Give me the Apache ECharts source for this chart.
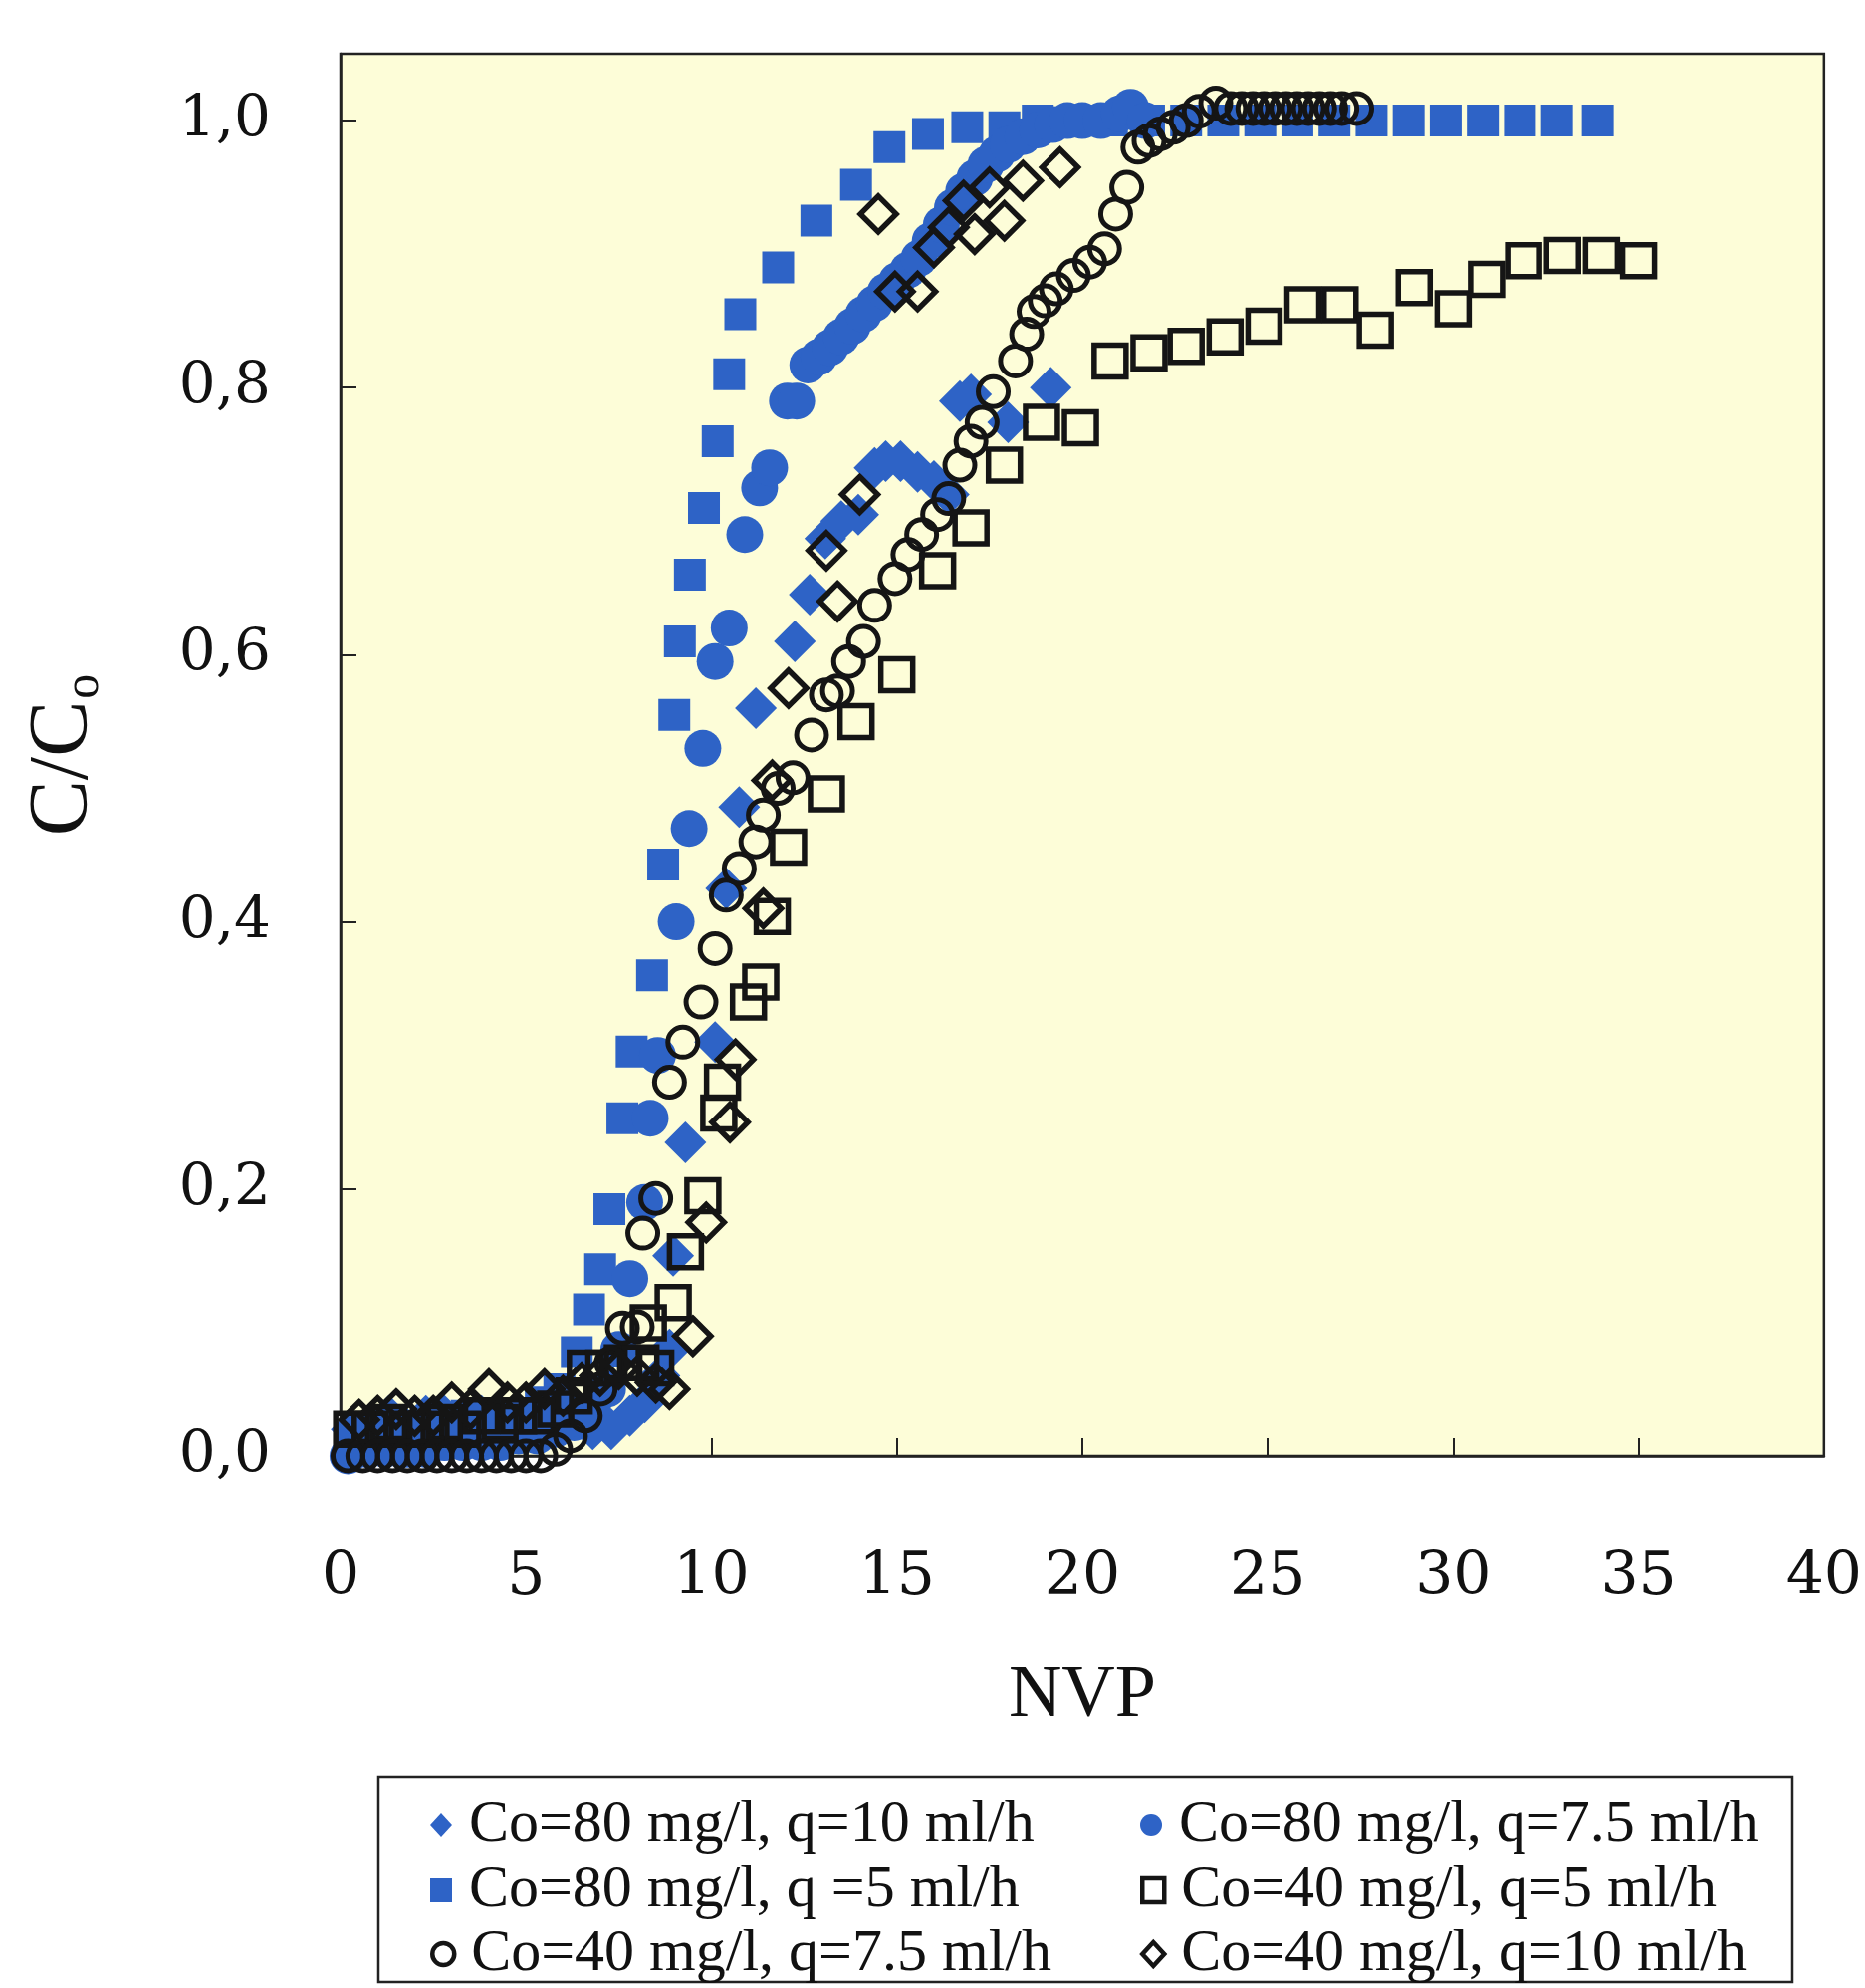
<!DOCTYPE html>
<html><head><meta charset="utf-8">
<script src="https://cdn.jsdelivr.net/npm/echarts@6/dist/echarts.min.js"></script>
<style>html,body{margin:0;padding:0;background:#fff}#c{width:1873px;height:1996px}</style>
</head><body><div id="c"></div>
<script>
const xTicks = [0, 5, 10, 15, 20, 25, 30, 35, 40];
const yTickValues = [0, 0.2, 0.4, 0.6, 0.8, 1.0];
const yTickLabels = ['0,0', '0,2', '0,4', '0,6', '0,8', '1,0'];
const seriesNames = [
  'Co=80 mg/l, q=10 ml/h', 'Co=80 mg/l, q=7.5 ml/h',
  'Co=80 mg/l, q =5 ml/h', 'Co=40 mg/l, q=5 ml/h',
  'Co=40 mg/l, q=7.5 ml/h', 'Co=40 mg/l, q=10 ml/h'
];
const co80q5 = [[0.3,0.01],[0.8,0.02],[1.3,0.02],[1.9,0.02],[2.4,0.02],[2.9,0.02],[3.4,0.03],[3.9,0.03],[4.4,0.03],[4.9,0.03],[5.4,0.04],[5.9,0.05],[6.37,0.078],[6.7,0.11],[7.0,0.14],[7.25,0.185],[7.6,0.253],[7.85,0.303],[8.4,0.36],[8.7,0.443],[9.0,0.555],[9.15,0.61],[9.42,0.66],[9.8,0.71],[10.17,0.76],[10.48,0.81],[10.78,0.855],[11.8,0.89],[12.83,0.925],[13.9,0.952],[14.8,0.98],[15.84,0.99],[16.9,0.995],[17.9,0.995],[18.8,1.0],[19.8,1.0],[20.8,1.0],[21.8,1.0],[22.8,1.0],[23.8,1.0],[24.8,1.0],[25.8,1.0],[26.8,1.0],[27.8,1.0],[28.8,1.0],[29.8,1.0],[30.8,1.0],[31.8,1.0],[32.8,1.0],[33.9,1.0]];
const co80q75 = [[0.2,0.0],[0.7,0.005],[1.2,0.005],[1.8,0.005],[2.3,0.005],[2.8,0.01],[3.3,0.01],[3.8,0.01],[4.3,0.01],[4.8,0.015],[5.3,0.015],[5.8,0.02],[6.3,0.025],[6.8,0.035],[7.2,0.05],[7.5,0.08],[7.8,0.133],[8.2,0.19],[8.35,0.253],[8.55,0.30],[9.05,0.40],[9.4,0.47],[9.77,0.53],[10.1,0.595],[10.48,0.62],[10.9,0.69],[11.3,0.725],[11.57,0.74],[12.05,0.79],[12.3,0.79],[12.6,0.817],[12.9,0.823],[13.2,0.83],[13.5,0.838],[13.8,0.846],[14.1,0.855],[14.4,0.863],[14.7,0.872],[15.0,0.88],[15.3,0.888],[15.6,0.897],[15.9,0.91],[16.2,0.922],[16.5,0.935],[16.8,0.947],[17.1,0.957],[17.4,0.967],[17.7,0.975],[18.0,0.982],[18.4,0.988],[18.8,0.993],[19.2,0.997],[19.6,1.0],[20.0,1.0],[20.5,1.0],[21.0,1.005],[21.3,1.01],[21.7,1.0]];
const co80q10 = [[0.3,0.02],[0.8,0.02],[1.3,0.03],[1.8,0.02],[2.3,0.03],[2.8,0.03],[3.3,0.02],[3.8,0.03],[4.3,0.03],[4.8,0.03],[5.3,0.03],[5.8,0.03],[6.3,0.03],[6.8,0.02],[7.3,0.02],[7.8,0.03],[8.2,0.04],[8.6,0.06],[8.87,0.08],[8.97,0.15],[9.3,0.235],[10.1,0.31],[10.4,0.425],[10.75,0.486],[11.2,0.56],[12.25,0.61],[12.65,0.645],[13.07,0.687],[13.5,0.70],[13.96,0.705],[14.4,0.74],[14.7,0.745],[15.1,0.745],[15.56,0.737],[16.0,0.73],[16.4,0.72],[16.7,0.79],[17.0,0.795],[18.0,0.774],[19.15,0.80]];
const co40q5 = [[0.3,0.02],[0.8,0.02],[1.3,0.025],[1.8,0.02],[2.3,0.02],[2.8,0.025],[3.3,0.02],[3.8,0.03],[4.3,0.025],[4.8,0.03],[5.3,0.03],[5.8,0.035],[6.3,0.045],[6.6,0.066],[7.1,0.066],[7.6,0.07],[8.1,0.07],[8.5,0.066],[8.3,0.10],[8.97,0.115],[9.3,0.153],[9.77,0.195],[10.2,0.257],[10.3,0.28],[11.0,0.34],[11.33,0.355],[11.64,0.404],[12.08,0.456],[13.1,0.496],[13.9,0.55],[15.0,0.585],[16.1,0.663],[17.0,0.695],[17.9,0.742],[18.9,0.774],[19.95,0.77],[20.75,0.82],[21.8,0.826],[22.8,0.831],[23.85,0.838],[24.9,0.846],[25.95,0.862],[26.95,0.862],[27.9,0.843],[28.95,0.875],[30.0,0.859],[30.9,0.881],[31.9,0.895],[32.95,0.899],[34.0,0.899],[35.0,0.895]];
const co40q75 = [[0.2,0.0],[0.6,0.0],[1.0,0.0],[1.4,0.0],[1.8,0.0],[2.2,0.0],[2.6,0.0],[3.0,0.0],[3.4,0.0],[3.8,0.0],[4.2,0.0],[4.6,0.0],[5.0,0.0],[5.4,0.0],[5.8,0.005],[6.2,0.015],[6.6,0.03],[7.0,0.05],[7.3,0.07],[7.6,0.096],[8.0,0.097],[8.15,0.167],[8.5,0.193],[8.87,0.28],[9.23,0.31],[9.72,0.34],[10.1,0.38],[10.4,0.42],[10.75,0.44],[11.2,0.46],[11.4,0.48],[11.8,0.50],[12.2,0.508],[12.7,0.54],[13.1,0.57],[13.4,0.573],[13.7,0.595],[14.1,0.61],[14.4,0.637],[14.95,0.657],[15.3,0.675],[15.67,0.69],[16.1,0.705],[16.4,0.717],[16.7,0.742],[17.0,0.76],[17.3,0.774],[17.6,0.797],[18.2,0.82],[18.5,0.84],[18.7,0.857],[19.0,0.865],[19.3,0.874],[19.76,0.884],[20.2,0.894],[20.6,0.904],[20.9,0.93],[21.2,0.95],[21.5,0.98],[21.8,0.985],[22.1,0.99],[22.45,0.995],[22.8,1.0],[23.15,1.007],[23.6,1.013],[24.0,1.009],[24.3,1.009],[24.6,1.009],[24.9,1.009],[25.2,1.009],[25.5,1.009],[25.8,1.009],[26.1,1.009],[26.4,1.009],[26.7,1.009],[27.0,1.009],[27.4,1.009]];
const co40q10 = [[0.5,0.027],[1.0,0.03],[1.5,0.035],[2.0,0.03],[2.5,0.03],[3.0,0.04],[3.5,0.035],[4.0,0.05],[4.5,0.04],[5.0,0.04],[5.5,0.05],[6.0,0.045],[6.5,0.055],[7.0,0.06],[7.5,0.065],[8.0,0.06],[8.5,0.055],[8.87,0.05],[9.5,0.09],[9.86,0.175],[10.5,0.25],[10.65,0.297],[11.4,0.41],[11.64,0.506],[12.08,0.575],[13.1,0.678],[13.4,0.64],[14.0,0.72],[14.5,0.93],[14.95,0.872],[15.56,0.872],[16.0,0.905],[16.4,0.92],[16.8,0.94],[17.1,0.915],[17.5,0.95],[17.9,0.925],[18.4,0.955],[19.4,0.965]];

const BLUE = '#2e63c6';
const INK = '#151515';
const chart = echarts.init(document.getElementById('c'), null, {renderer: 'canvas'});
function filled(name, data, symbol, size) {
  return {name, type: 'scatter', data, symbol, symbolSize: size,
    itemStyle: {color: BLUE, opacity: 1}, emphasis: {disabled: true}};
}
function hollow(name, data, symbol, size, bw) {
  return {name, type: 'scatter', data, symbol, symbolSize: size,
    itemStyle: {color: 'rgba(0,0,0,0)', borderColor: INK, borderWidth: bw, opacity: 1}, emphasis: {disabled: true}};
}
const legendText = {fontFamily: 'Liberation Serif', fontSize: 60, color: '#111', lineHeight: 56,
  rich: {g: {width: 12, lineHeight: 56}}};
const legendRowsY = [1830, 1896, 1960];
const legendColsX = [443, 1156];
// legend layout: [seriesIndex in seriesNames, column, row]
const legendSlots = [[0, 0, 0], [2, 0, 1], [4, 0, 2], [1, 1, 0], [3, 1, 1], [5, 1, 2]];
const legends = legendSlots.map(([si, c, r]) => ({
  orient: 'horizontal', left: legendColsX[c] - 11, top: legendRowsY[r] - 28, padding: 0,
  itemWidth: 22, itemHeight: 24, data: [seriesNames[si]], textStyle: legendText,
  selectedMode: false, formatter: n => '{g|}' + n, itemStyle: {borderWidth: 4.5}
}));
chart.setOption({
  animation: false,
  backgroundColor: '#ffffff',
  grid: {left: 342, right: 39, top: 54, bottom: 534, show: true,
    backgroundColor: '#fdfdd8', borderColor: '#222', borderWidth: 2.5},
  xAxis: {type: 'value', min: 0, max: 40, interval: 5,
    name: 'NVP', nameLocation: 'middle', nameGap: 205,
    nameTextStyle: {fontFamily: 'Liberation Serif', fontSize: 74, color: '#111'},
    axisLine: {lineStyle: {color: '#222', width: 2.5}},
    axisTick: {inside: true, length: 18, lineStyle: {color: '#222', width: 2}},
    axisLabel: {margin: 92, fontFamily: 'DejaVu Serif', fontSize: 60, color: '#111',
      formatter: v => xTicks.includes(v) ? String(v) : ''},
    splitLine: {show: false}},
  yAxis: {type: 'value', min: 0, max: 1.05, interval: 0.2,
    name: '{a|C/C}{b|o}', nameLocation: 'middle', nameGap: 232, nameRotate: 90,
    nameTextStyle: {rich: {
      a: {fontFamily: 'Liberation Serif', fontSize: 84, color: '#111', lineHeight: 90},
      b: {fontFamily: 'Liberation Serif', fontSize: 50, color: '#111', lineHeight: 90, verticalAlign: 'bottom', padding: [22, 0, 0, 2]}}},
    axisLine: {lineStyle: {color: '#222', width: 2.5}},
    axisTick: {inside: true, length: 16, lineStyle: {color: '#222', width: 2}},
    axisLabel: {margin: 70, fontFamily: 'DejaVu Serif', fontSize: 58, color: '#111',
      formatter: v => { const i = yTickValues.findIndex(t => Math.abs(t - v) < 1e-6); return i >= 0 ? yTickLabels[i] : ''; }},
    splitLine: {show: false}},
  legend: legends,
  graphic: [{type: 'rect', shape: {x: 380, y: 1784, width: 1420, height: 206},
    style: {fill: 'none', stroke: '#222', lineWidth: 2.5}, silent: true}],
  series: [
    filled(seriesNames[2], co80q5, 'rect', 32),
    filled(seriesNames[1], co80q75, 'circle', 37),
    filled(seriesNames[0], co80q10, 'diamond', 42),
    hollow(seriesNames[3], co40q5, 'rect', 32, 5.5),
    hollow(seriesNames[4], co40q75, 'circle', 30, 5),
    hollow(seriesNames[5], co40q10, 'diamond', 36, 5.5)
  ]
});
</script></body></html>
